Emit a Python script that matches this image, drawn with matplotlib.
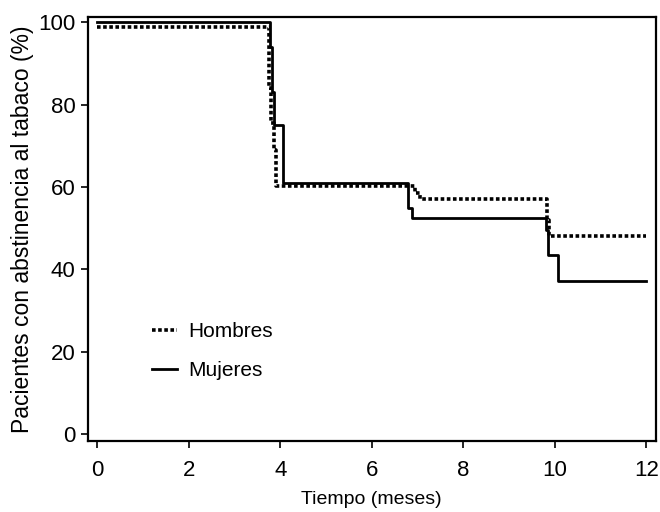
import matplotlib
matplotlib.use("Agg")
import matplotlib.pyplot as plt

# Data (Kaplan-Meier style step curves)
hombres_t = [0, 3.76, 3.80, 3.86, 3.90, 6.95, 7.05, 9.82, 9.88, 12]
hombres_s = [99, 84, 75.5, 69, 60.2, 58.5, 57, 52, 48, 48]
mujeres_t = [0, 3.78, 3.82, 3.86, 4.06, 6.80, 6.88, 9.80, 9.86, 10.07, 12]
mujeres_s = [100, 94, 83, 75, 61, 55, 52.4, 49.5, 43.4, 37.2, 37.2]
xticks = [0, 2, 4, 6, 8, 10, 12]
yticks = [0, 20, 40, 60, 80, 100]
labels = ["Hombres", "Mujeres"]

plt.rcParams['font.family'] = ['Liberation Sans', 'DejaVu Sans']

fig = plt.figure(figsize=(6.6, 5.12), dpi=100)
ax = fig.add_axes([0.1333, 0.1387, 0.860, 0.828])

ax.step(hombres_t, hombres_s, where='post', color='black', lw=2.6,
        linestyle=(0, (1, 0.7)), dash_capstyle='butt', label=labels[0])
ax.step(mujeres_t, mujeres_s, where='post', color='black', lw=2.0,
        linestyle='-', label=labels[1])

ax.set_xlim(-0.2, 12.2)
ax.set_ylim(-1.7, 101.3)
ax.set_xticks(xticks)
ax.set_yticks(yticks)
ax.tick_params(axis='both', direction='out', length=5, width=1.2, labelsize=16)
ax.tick_params(axis='x', pad=9)
ax.tick_params(axis='y', pad=4)
for sp in ax.spines.values():
    sp.set_linewidth(1.6)

ax.set_xlabel("Tiempo (meses)", fontsize=14, labelpad=7)
ax.set_ylabel("Pacientes con abstinencia al tabaco (%)", fontsize=16.5, labelpad=3)

leg = ax.legend(loc='lower left', bbox_to_anchor=(0.08, 0.10), frameon=False,
                fontsize=15, handlelength=1.2, handletextpad=0.55, labelspacing=0.95)

fig.savefig("out.png", dpi=100)
